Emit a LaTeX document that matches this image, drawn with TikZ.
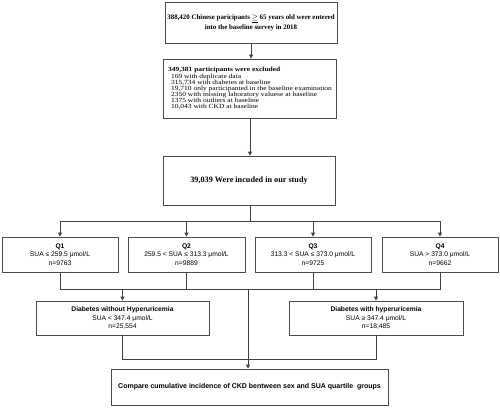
\documentclass[tikz,border=0pt]{standalone}
\usepackage{fontspec}
\setmainfont{Liberation Serif}
\setsansfont{Liberation Sans}
\newfontfamily\wideserif[FakeStretch=1.19]{Liberation Serif}
\usetikzlibrary{arrows.meta}
\begin{document}
\begin{tikzpicture}[x=1pt,y=-1pt,
  box/.style={draw=black!70, line width=0.8pt, fill=white, inner sep=2pt, anchor=center},
  conn/.style={draw=black!75, line width=0.8pt},
  arr/.style={conn, -{Triangle[length=4pt,width=4pt]}},
  serifA/.style={font=\fontsize{6.9}{10}\selectfont\bfseries, align=center},
  sansQ/.style={font=\sffamily\fontsize{6.7}{8.8}\selectfont, align=center},
]
\useasboundingbox (0,0) rectangle (500,407);
\fill[white] (0,0) rectangle (500,407);

\node[box, serifA, minimum width=172pt, minimum height=41pt] (b1) at (251,22.5)
  {388,420 Chinese paricipants $\underline{\geq}$ 65 years old were entered\\into the baseline survey in 2018};

\node[box, minimum width=173pt, minimum height=59pt, align=left,
  font=\wideserif\fontsize{6.3}{6.1}\selectfont] (b2) at (250,88.5)
  {\textbf{349,381 participants were excluded}\\
   \hspace*{3pt}169 with duplicate data\\
   \hspace*{3pt}315,734 with diabetes at baseline\\
   \hspace*{3pt}19,710 only participanted in the baseline examination\\
   \hspace*{3pt}2350 with missing laboratory valuese at baseline\\
   \hspace*{3pt}1375 with outliers at baseline\\
   \hspace*{3pt}10,043 with CKD at baseline};

\node[box, font=\fontsize{8.2}{10}\selectfont\bfseries, minimum width=172pt, minimum height=49pt] (b3) at (249,180.5)
  {39,039 Were incuded in our study};

\node[box, sansQ, minimum width=116pt, minimum height=35pt] (q1) at (60,254.5)
  {\textbf{Q1}\\SUA ≤ 259.5 μmol/L\\n=9763};
\node[box, sansQ, minimum width=117pt, minimum height=35pt] (q2) at (186.5,254.5)
  {\textbf{Q2}\\259.5 < SUA ≤ 313.3 μmol/L\\n=9889};
\node[box, sansQ, minimum width=116pt, minimum height=35pt] (q3) at (313,254.5)
  {\textbf{Q3}\\313.3 < SUA ≤ 373.0 μmol/L\\n=9725};
\node[box, sansQ, minimum width=116pt, minimum height=35pt] (q4) at (440,254.5)
  {\textbf{Q4}\\SUA > 373.0 μmol/L\\n=9662};

\node[box, sansQ, minimum width=173pt, minimum height=34pt] (d1) at (122.5,318)
  {\textbf{Diabetes without Hyperuricemia}\\SUA < 347.4 μmol/L\\n=25,554};
\node[box, sansQ, minimum width=174pt, minimum height=34pt] (d2) at (376,318)
  {\textbf{Diabetes with hyperuricemia}\\SUA ≥ 347.4 μmol/L\\n=18,485};

\node[box, font=\sffamily\fontsize{7}{8}\selectfont\bfseries, minimum width=277pt, minimum height=36pt] (f) at (249.5,387)
  {Compare cumulative incidence of CKD bentween sex and SUA quartile\ \ groups};

\coordinate (split) at (250,221);
\coordinate (merge) at (248,289);
\coordinate (merge2) at (248,359);

\draw[arr] (b1.south) -- (b1.south |- b2.north);
\draw[arr] (b2.south -| split) -- (split |- b3.north);
\draw[conn] (b3.south -| split) -- (split);
\draw[arr] (split) -| (q1.north);
\draw[arr] (split) -| (q2.north);
\draw[arr] (split) -| (q3.north);
\draw[arr] (split) -| (q4.north);
\draw[conn] (q1.south) |- (merge);
\draw[conn] (q2.south) |- (merge);
\draw[conn] (q3.south) |- (merge);
\draw[conn] (q4.south) |- (merge);
\draw[arr] (merge) -| (d1.north);
\draw[arr] (merge) -| (d2.north);
\draw[conn] (d1.south) |- (merge2);
\draw[conn] (d2.south) |- (merge2);
\draw[arr] (merge) -- (merge |- f.north);
\end{tikzpicture}
\end{document}
